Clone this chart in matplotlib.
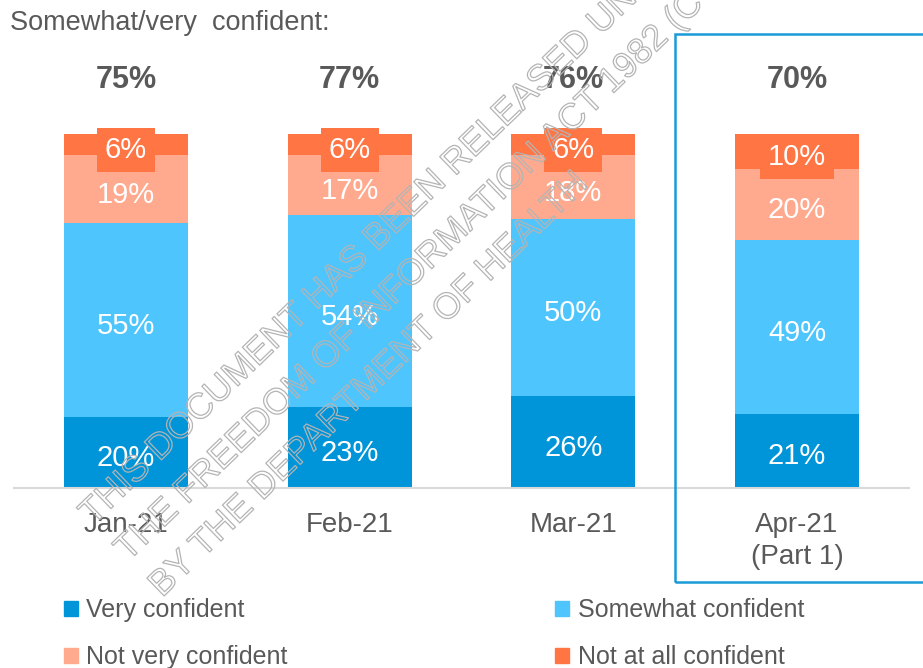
import matplotlib
matplotlib.use('Agg')
import matplotlib.pyplot as plt
import matplotlib.patches as mpatches
import matplotlib.patheffects as pe

plt.rcParams['font.family'] = ['Liberation Sans', 'DejaVu Sans']

# data
categories = ['Jan-21', 'Feb-21', 'Mar-21', 'Apr-21\n(Part 1)']
very = [20, 23, 26, 21]
somewhat = [55, 54, 50, 49]
not_very = [19, 17, 18, 20]
not_at_all = [6, 6, 6, 10]
confident_total = [75, 77, 76, 70]

series_names = ['Very confident', 'Somewhat confident', 'Not very confident', 'Not at all confident']
series = [very, somewhat, not_very, not_at_all]
colors = ['#0094D8', '#4FC5FE', '#FFAA8E', '#FF7544']

TEXT = '#595959'
W, H = 923, 668

fig = plt.figure(figsize=(W / 100, H / 100), dpi=100)
# axes spans the full width; y from baseline (488px) to 100% (134px)
ax = fig.add_axes([0, (H - 488) / H, 1, 354 / H])
ax.set_xlim(-0.5633, 3.5633)
ax.set_ylim(0, 100)

x = list(range(len(categories)))
bottoms = [0] * len(categories)
for name, vals, col in zip(series_names, series, colors):
    ax.bar(x, vals, width=0.554, bottom=bottoms, color=col, label=name, linewidth=0)
    for i, v in enumerate(vals):
        yc = bottoms[i] + v / 2 - 1.6
        kw = {}
        if name == 'Not at all confident':
            kw['bbox'] = dict(boxstyle='square,pad=0.27', facecolor=col, edgecolor='none')
        ax.text(i, yc, f'{v}%', ha='center', va='center', fontsize=21,
                color='white', **kw)
    bottoms = [b + v for b, v in zip(bottoms, vals)]

# totals above the bars
for i, t in enumerate(confident_total):
    ax.text(i, 115.2, f'{t}%', ha='center', va='center', fontsize=22,
            fontweight='bold', color=TEXT)

for s in ['top', 'right', 'left']:
    ax.spines[s].set_visible(False)
ax.spines['bottom'].set_color('#D9D9D9')
ax.spines['bottom'].set_linewidth(1.5)
ax.spines['bottom'].set_bounds(-0.5, 3.5)
ax.set_yticks([])
ax.set_xticks(x)
ax.set_xticklabels(categories, fontsize=20, color=TEXT, linespacing=1.26)
ax.tick_params(axis='x', length=0, pad=17.5)

fig.text(10 / W, 1 - 23 / H, 'Somewhat/very  confident:', ha='left', va='center',
         fontsize=19.5, color=TEXT)

# highlight box around the latest wave
fig.add_artist(mpatches.Rectangle((675 / W, 1 - 582 / H), 300 / W, 548 / H,
                                  transform=fig.transFigure, fill=False,
                                  edgecolor='#1A9AD6', linewidth=1.8))

handles = [mpatches.Patch(color=c, label=n) for n, c in zip(series_names, colors)]
order = [0, 2, 1, 3]
fig.legend([handles[k] for k in order], [series_names[k] for k in order],
           ncol=2, loc='upper left', bbox_to_anchor=(64 / W, 1 - 598 / H),
           frameon=False, fontsize=18, labelcolor=TEXT,
           handlelength=0.56, handleheight=0.56, handletextpad=0.34,
           columnspacing=10.7, labelspacing=0.92, borderpad=0, borderaxespad=0)

# FOI watermark, hollow grey letters
wm_lines = ['THIS DOCUMENT HAS BEEN RELEASED UNDER',
            'THE FREEDOM OF INFORMATION ACT 1982 (CTH)',
            'BY THE DEPARTMENT OF HEALTH']
wm_starts = [(93, 526), (128, 562), (162, 598)]
for line, (px, py) in zip(wm_lines, wm_starts):
    fig.text(px / W, 1 - py / H, line, rotation=44, rotation_mode='anchor',
             ha='left', va='baseline', fontsize=26, color='none', zorder=10,
             path_effects=[pe.Stroke(linewidth=0.9, foreground='#B4B4B4')])

fig.savefig('out.png', dpi=100)
